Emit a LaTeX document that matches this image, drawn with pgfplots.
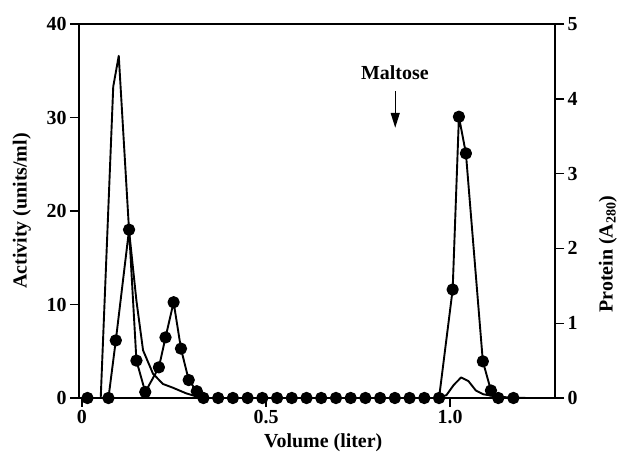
\documentclass[border=0pt]{standalone}
\usepackage{pgfplots}
\pgfplotsset{compat=1.18}
\usepackage{fontspec}
\setmainfont{Liberation Serif}
\usetikzlibrary{arrows.meta}
\begin{document}
\begin{tikzpicture}
\useasboundingbox (0,0) rectangle (619bp,458bp);
\pgfplotsset{
 common/.style={
  at={(79bp,60bp)}, anchor=south west, scale only axis, width=476bp, height=374bp,
  xmin=-0.008, xmax=1.285, clip=false,
  tick align=outside, major tick length=9bp,
  every tick/.style={black, line width=1.4bp},
  axis line style={line width=1.7bp},
  /pgf/number format/assume math mode=true,
  tick label style={font=\fontsize{20}{22}\selectfont\bfseries},
  label style={font=\fontsize{20}{22}\selectfont\bfseries},
 }
}
\begin{axis}[common, ymin=0, ymax=40, ytick={0,10,20,30,40},
  xtick={0,0.5,1}, xticklabels={0,0.5,1.0}, xtick pos=bottom, ytick pos=left,
  xlabel={Volume (liter)}, ylabel={Activity (units/ml)},
  xlabel style={at={(axis description cs:0.513,-0.120)}, anchor=center},
  ylabel style={at={(axis description cs:-0.12,0.5)}, anchor=center}]
\addplot[black, line width=1.9bp, line join=round] coordinates {
(0,0) (0.051,0) (0.085,33.3) (0.100,36.6) (0.128,17.9) (0.148,10.4) (0.166,5.1)
(0.193,2.6) (0.220,1.5) (0.247,1.1) (0.283,0.5) (0.319,0.07) (0.34,0) (0.96,0)
(0.99,0.3) (1.01,1.4) (1.03,2.2) (1.05,1.8) (1.07,0.8) (1.09,0.4) (1.12,0.2)
(1.16,0.05) (1.21,0)};
\node[font=\fontsize{20}{22}\selectfont\bfseries] at (axis cs:0.850,34.8) {Maltose};
\draw[line width=1.4bp, -{Triangle[length=15bp,width=9bp]}] (axis cs:0.851,32.8) -- (axis cs:0.851,28.9);
\end{axis}
\begin{axis}[common, ymin=0, ymax=5, ytick={0,1,2,3,4,5},
  axis y line*=right, axis x line=none,
  ylabel={Protein (A\textsubscript{280})},
  every axis y label/.style={at={(axis description cs:1.111,0.385)}, rotate=90, anchor=center, font=\fontsize{20}{22}\selectfont\bfseries}]
\addplot[black, line width=1.9bp, line join=round, mark=*, mark size=5.2bp] coordinates {
(0.015,0) (0.072,0) (0.092,0.77) (0.128,2.25) (0.148,0.5) (0.172,0.08)
(0.209,0.41) (0.227,0.81) (0.249,1.28) (0.269,0.66) (0.290,0.24) (0.312,0.09)
(0.33,0) (0.37,0) (0.41,0) (0.45,0) (0.49,0) (0.53,0) (0.57,0) (0.61,0)
(0.65,0) (0.69,0) (0.73,0) (0.77,0) (0.81,0) (0.85,0) (0.89,0) (0.93,0) (0.97,0)
(1.007,1.45) (1.024,3.76) (1.043,3.27) (1.089,0.49) (1.111,0.1) (1.131,0) (1.172,0)};
\end{axis}
\end{tikzpicture}
\end{document}
